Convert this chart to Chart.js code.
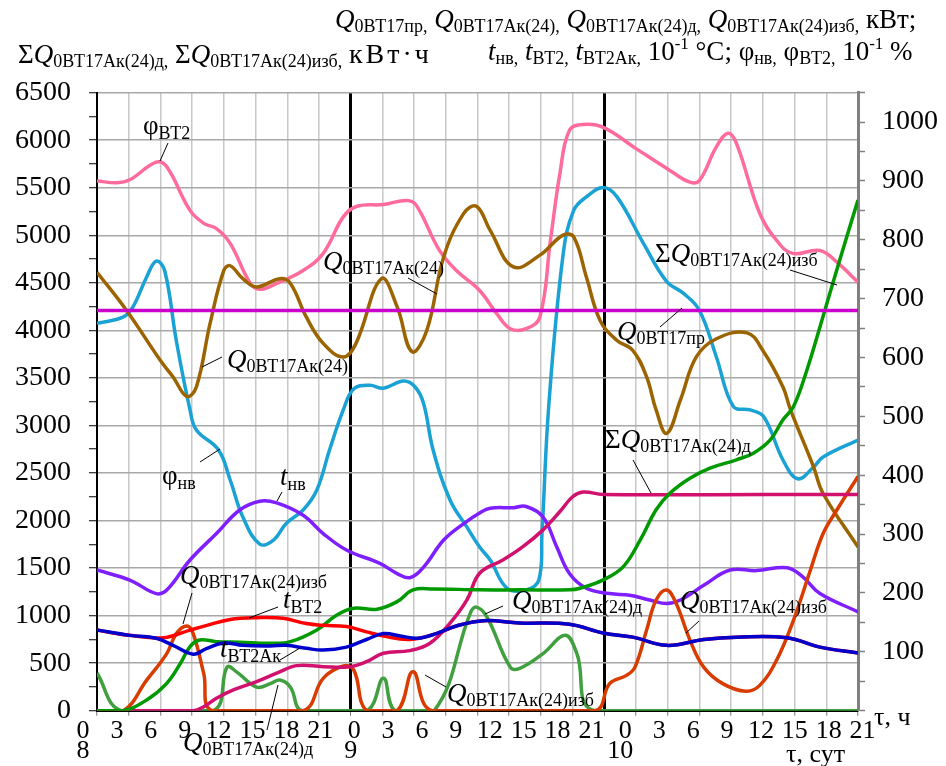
<!DOCTYPE html>
<html>
<head>
<meta charset="utf-8">
<script src="https://cdn.jsdelivr.net/npm/chart.js@4.4.0/dist/chart.umd.min.js"></script>
<style>
  body { margin: 0; background: #fff; }
  #wrap { width: 946px; height: 766px; }
</style>
</head>
<body>
<div id="wrap"><canvas id="chart" width="946" height="766"></canvas></div>
<script>
// time axis: hours counted from 0:00 of day 8 (0..72)
// right axis (kW, 10^-1 °C, 10^-1 %)
const phiVT2Hours = [0, 1.9, 3.1, 5.6, 6.6, 8.8, 10.1, 11.3, 12.6, 14.5, 15.4, 17, 19.5, 21.4, 23.3, 24.6, 27.1, 29.3, 30.2, 32.4, 34, 36.2, 37.8, 39.1, 40.6, 41.9, 42.9, 43.8, 44.7, 46, 47.9, 51, 54.2, 56.1, 57, 58.6, 59.7, 60.5, 62.7, 64.3, 65.8, 68.4, 70, 72];
const phiVT2 = [900, 897, 902, 932, 924, 850, 828, 819, 794, 726, 716, 726, 748, 777, 839, 857, 860, 867, 859, 782, 748, 714, 675, 649, 649, 669, 799, 913, 986, 996, 991, 955, 918, 898, 901, 958, 981, 964, 845, 799, 777, 782, 762, 728];

const phiNvHours = [0, 2.5, 3.4, 4.7, 5.6, 6.4, 7.5, 8.8, 9.4, 11.5, 12.6, 13.8, 15.4, 16.7, 17.9, 19.5, 20.8, 22, 23.3, 24.3, 25.8, 27.1, 29, 30.1, 30.9, 31.8, 33.4, 35, 36.2, 37.2, 38.8, 40.6, 41.8, 42.1, 42.75, 44.1, 45.1, 46.3, 47.9, 49.2, 51.7, 53.9, 55.5, 57, 58.6, 60.2, 61.8, 63.1, 64.9, 66.3, 67.8, 68.7, 72];
const phiNv = [658, 669, 686, 737, 764, 748, 629, 511, 477, 443, 392, 329, 283, 290, 318, 341, 375, 443, 511, 547, 553, 548, 560, 550, 522, 443, 358, 312, 278, 256, 208, 205, 222, 301, 520, 775, 850, 873, 889, 873, 794, 729, 709, 680, 601, 517, 511, 499, 426, 394, 414, 431, 460];

const q24Hours = [0, 2.8, 6, 7.2, 8.5, 9.4, 10.7, 12, 12.6, 13.8, 15.1, 17.3, 18.3, 19.8, 21.4, 23.3, 24.5, 26.9, 28.4, 29.8, 31.2, 32.8, 34.7, 35.9, 37.2, 39.4, 41.9, 44.1, 45.1, 46.3, 47.6, 49.2, 50.7, 52, 52.9, 53.9, 55.2, 56.7, 58.6, 61.5, 63, 64.9, 65.6, 67.8, 68.7, 72];
const q24 = [745, 680, 595, 567, 534, 550, 658, 748, 756, 734, 720, 734, 726, 669, 624, 601, 624, 734, 686, 610, 646, 771, 845, 857, 816, 754, 774, 808, 805, 737, 663, 629, 612, 567, 511, 471, 528, 601, 632, 642, 612, 550, 512, 414, 369, 278];

const qPrHours = [0, 72];
const qPr = [680, 680];

const tNvHours = [0, 3.1, 5.6, 6.6, 8.8, 11.3, 13.5, 15.4, 17, 19.5, 21.4, 23.6, 26.8, 28.4, 29.6, 30.9, 32.8, 34.7, 36.2, 37.2, 39.4, 40.6, 42.2, 43.5, 44.7, 46.3, 48.5, 50.4, 52.3, 53.9, 55.2, 57.4, 59.9, 62.4, 65.3, 66.8, 68.4, 72];
const tNv = [239, 222, 199, 205, 256, 301, 341, 356, 353, 332, 301, 273, 250, 233, 226, 244, 290, 318, 336, 344, 345, 347, 329, 278, 233, 208, 199, 196, 188, 182, 188, 213, 239, 238, 243, 227, 199, 168];

const tVT2Hours = [0, 3.1, 6.3, 8.8, 10.4, 12.6, 15.1, 17.6, 19.8, 21.4, 23.6, 25.5, 27.1, 29.6, 32.1, 34, 36.6, 40, 44.7, 47.9, 50.7, 53.9, 57.4, 60.5, 65.3, 68.4, 72];
const tVT2 = [137, 128, 124, 137, 145, 155, 158, 157, 148, 145, 143, 134, 127, 121, 131, 144, 153, 149, 147, 132, 125, 111, 121, 125, 124, 108, 98];

const tVT2AkHours = [0, 3.1, 5.6, 7.2, 9.1, 10.4, 12, 13.8, 16.4, 17.9, 19.8, 21.4, 23.6, 25.5, 27.1, 28.7, 30.3, 32.1, 34, 36.6, 40, 44.7, 47.9, 50.7, 53.9, 57.4, 60.5, 65.3, 68.4, 72];
const tVT2Ak = [137, 128, 123, 111, 96, 106, 115, 111, 110, 111, 106, 103, 108, 121, 131, 127, 123, 131, 144, 153, 149, 147, 132, 125, 111, 121, 125, 124, 108, 98];

const qIzbHours = [0, 2.5, 4.7, 6.6, 7.5, 8.5, 9.1, 10.1, 10.9, 19.5, 21.4, 23.3, 24.3, 25.5, 28.4, 29.9, 31.7, 47.1, 48.5, 50.1, 50.9, 52, 52.9, 53.9, 54.8, 56.1, 57.4, 59.2, 61.4, 62.7, 64.3, 65.9, 67.5, 68.7, 70, 72];
const qIzb = [0, 0, 52, 97, 131, 144, 131, 63, 0, 0, 55, 76, 69, 0, 0, 66, 0, 0, 46, 60, 74, 137, 188, 205, 182, 120, 74, 46, 33, 43, 86, 154, 239, 301, 341, 398];

const qDHours = [0, 2.3, 11, 12.3, 13.2, 15.1, 16.4, 17.3, 18.3, 19.4, 25.5, 27.1, 28.2, 31.9, 35.3, 35.9, 36.9, 39.1, 40, 42.2, 44.3, 45.4, 47.1, 72];
const qD = [64, 0, 0, 74, 66, 40, 46, 52, 40, 0, 0, 55, 0, 0, 165, 176, 159, 74, 72, 97, 128, 97, 0, 0];

// left axis (kWh)
const sumIzbHours = [0, 2.5, 4.7, 6.6, 7.9, 8.8, 9.7, 11.3, 13.5, 16.4, 18.3, 20.8, 22.7, 24.3, 26.5, 28.4, 29.9, 31.8, 36.2, 40, 44.7, 45.7, 47.9, 49.8, 51.4, 52.9, 54.2, 56.1, 58, 60.5, 62.1, 63.7, 64.9, 65.9, 67.1, 68.7, 70.3, 72];
const sumIzb = [0, 0, 113, 288, 499, 674, 744, 726, 720, 709, 726, 849, 1007, 1078, 1067, 1147, 1271, 1281, 1271, 1271, 1271, 1288, 1376, 1516, 1797, 2113, 2288, 2446, 2552, 2639, 2709, 2849, 3060, 3200, 3560, 4150, 4750, 5370];

const sumDHours = [0, 9.1, 10.1, 11.3, 12.9, 15.1, 17, 18.9, 21.4, 23.9, 25.5, 27.1, 29.6, 31.5, 33.4, 35, 36.2, 38.4, 40.3, 42.2, 43.8, 45, 46, 47.9, 72];
const sumD = [0, 0, 42, 130, 218, 305, 394, 474, 463, 463, 516, 604, 632, 709, 920, 1165, 1446, 1586, 1726, 1902, 2095, 2250, 2300, 2275, 2275];

const hourTicks = [0, 3, 6, 9, 12, 15, 18, 21, 24, 27, 30, 33, 36, 39, 42, 45, 48, 51, 54, 57, 60, 63, 66, 69];
const dayLabels = ['8', '9', '10'];

function pts(hs, vs) {
    return hs.map((h, i) => ({ x: h, y: vs[i] }));
}

function line(data, color, axis) {
    return { data: data, borderColor: color, yAxisID: axis, fill: false };
}

const SERIF = '"Liberation Serif", "DejaVu Serif", serif';
const M = sz => sz + 'px ' + SERIF;
const I = sz => 'italic ' + sz + 'px ' + SERIF;

// draws text runs one after another, [text, font, dy]
function rich(c, x, y, segs) {
    for (const s of segs) {
        c.font = s[1];
        c.fillText(s[0], x, y + (s[2] || 0));
        x += c.measureText(s[0]).width;
    }
    return x;
}

function Q(sub, big, small) {
    return [['Q', I(big)], [sub, M(small), 4]];
}

function lead(c, x1, y1, x2, y2) {
    c.beginPath();
    c.moveTo(x1, y1);
    c.lineTo(x2, y2);
    c.stroke();
}

const textPlugin = {
    id: 'texts',
    afterDraw(chart) {
        const c = chart.ctx;
        const area = chart.chartArea;
        c.save();
        c.fillStyle = '#000';
        c.strokeStyle = '#000';
        c.lineWidth = 1;
        c.textBaseline = 'alphabetic';
        c.textAlign = 'left';

        // axis titles
        const sp = [' ', M(27)];
        const endX = rich(c, 18, 63, [['Σ', M(27)]].concat(Q('0ВТ17Ак(24)д,', 27, 18), [sp, ['Σ', M(27)]],
            Q('0ВТ17Ак(24)изб,', 27, 18), [sp]));
        c.letterSpacing = '3px';
        rich(c, endX, 63, [['кВт·ч', M(28)]]);
        c.letterSpacing = '0px';

        rich(c, 335, 28, [].concat(Q('0ВТ17пр,', 27, 18), [sp], Q('0ВТ17Ак(24),', 27, 18), [sp],
            Q('0ВТ17Ак(24)д,', 27, 18), [sp], Q('0ВТ17Ак(24)изб,', 27, 18), [[' кВт;', M(27)]]));

        rich(c, 488, 60, [['t', I(27)], ['нв,', M(18), 4], sp, ['t', I(27)], ['ВТ2,', M(18), 4], sp,
            ['t', I(27)], ['ВТ2Ак,', M(18), 4], [' 10', M(27)], ['-1', M(17), -11], [' °C; φ', M(27)],
            ['нв,', M(18), 4], [' φ', M(27)], ['ВТ2,', M(18), 4], [' 10', M(27)], ['-1', M(17), -11], [' %', M(27)]]);

        // curve labels with leader lines
        rich(c, 143, 134, [['φ', M(27)], ['ВТ2', M(18), 5]]);
        lead(c, 168, 143, 160, 161);
        rich(c, 323, 270, Q('0ВТ17Ак(24)', 27, 18));
        lead(c, 408, 278, 437, 294);
        rich(c, 227, 368, Q('0ВТ17Ак(24)', 27, 18));
        lead(c, 222, 357, 202, 367);
        rich(c, 162, 484, [['φ', M(27)], ['нв', M(18), 5]]);
        lead(c, 200, 462, 220, 449);
        rich(c, 280, 485, [['t', I(27)], ['нв', M(18), 5]]);
        lead(c, 277, 501, 282, 492);
        rich(c, 180, 584, Q('0ВТ17Ак(24)изб', 27, 18));
        lead(c, 192, 593, 183, 624);
        rich(c, 283, 608, [['t', I(27)], ['ВТ2', M(18), 5]]);
        lead(c, 278, 607, 249, 618);
        rich(c, 220, 657, [['t', I(27)], ['ВТ2Ак', M(18), 5]]);
        lead(c, 280, 660, 300, 648);
        rich(c, 183, 751, Q('0ВТ17Ак(24)д', 27, 18));
        lead(c, 267, 730, 278, 685);
        rich(c, 447, 702, Q('0ВТ17Ак(24)изб', 27, 18));
        lead(c, 446, 687, 425, 675);
        rich(c, 655, 262, [['Σ', M(27)]].concat(Q('0ВТ17Ак(24)изб', 27, 18)));
        lead(c, 790, 270, 837, 285);
        rich(c, 617, 340, Q('0ВТ17пр', 27, 18));
        lead(c, 660, 327, 682, 308);
        rich(c, 512, 609, Q('0ВТ17Ак(24)д', 27, 18));
        lead(c, 503, 606, 485, 614);
        rich(c, 605, 448, [['Σ', M(27)]].concat(Q('0ВТ17Ак(24)д', 27, 18)));
        lead(c, 633, 460, 651, 493);
        rich(c, 680, 609, Q('0ВТ17Ак(24)изб', 27, 18));
        lead(c, 699, 621, 686, 633);

        // hour labels (spread a bit wider than the grid, as in the source)
        c.textAlign = 'center';
        c.font = M(26);
        const step = area.width * 1.069 / 72;
        hourTicks.forEach(h => {
            c.fillText(String(h % 24), area.left - 14 + h * step, 738);
        });
        c.fillText(dayLabels[0], area.left - 14, 758);
        c.fillText(dayLabels[1], chart.scales.x.getPixelForValue(24), 758);
        c.fillText(dayLabels[2], chart.scales.x.getPixelForValue(48) + 16, 758);
        c.textAlign = 'left';
        c.fillText('τ, ч', 874, 725);
        c.fillText('τ, сут', 786, 762);
        c.restore();
    }
};

function build() {
    const ctx = document.getElementById('chart').getContext('2d');
    new Chart(ctx, {
        type: 'line',
        data: {
            datasets: [
                line(pts(tVT2AkHours, tVT2Ak), '#0000CC', 'yR'),
                line(pts(tVT2Hours, tVT2), '#FF0000', 'yR'),
                line(pts(qPrHours, qPr), '#CC00CC', 'yR'),
                line(pts(sumIzbHours, sumIzb), '#009A00', 'yL'),
                line(pts(sumDHours, sumD), '#D2106E', 'yL'),
                line(pts(qIzbHours, qIzb), '#D83C00', 'yR'),
                line(pts(qDHours, qD), '#40A040', 'yR'),
                line(pts(tNvHours, tNv), '#7F1FFF', 'yR'),
                line(pts(q24Hours, q24), '#9C6400', 'yR'),
                line(pts(phiNvHours, phiNv), '#1AA2D4', 'yR'),
                line(pts(phiVT2Hours, phiVT2), '#FF6C9C', 'yR')
            ]
        },
        options: {
            responsive: false,
            animation: false,
            layout: { padding: { top: 92.7, left: 0, right: 0, bottom: 0 } },
            plugins: { legend: { display: false }, tooltip: { enabled: false } },
            elements: {
                point: { radius: 0 },
                line: { borderWidth: 3.5, tension: 0.4 }
            },
            scales: {
                x: {
                    type: 'linear', min: 0, max: 72,
                    ticks: { stepSize: 3, maxTicksLimit: 1000, autoSkip: false, display: false },
                    grid: {
                        color: c => (c.tick && (c.tick.value === 24 || c.tick.value === 48)) ? '#000' : '#C8C8C8',
                        lineWidth: c => (c.tick && (c.tick.value === 24 || c.tick.value === 48)) ? 3 : 1.5,
                        tickColor: '#777', tickLength: 5, tickWidth: 1
                    },
                    border: { color: '#000', width: 2 },
                    afterFit: s => { s.height = 55.3; }
                },
                yL: {
                    position: 'left', min: 0, max: 6500,
                    ticks: {
                        stepSize: 250, maxTicksLimit: 1000, autoSkip: false,
                        callback: v => v % 500 === 0 ? v : '',
                        font: { family: SERIF, size: 28 }, color: '#000', padding: 18
                    },
                    grid: {
                        color: c => (c.tick && c.tick.value % 500 === 0) ? '#A8A8A8' : 'rgba(0,0,0,0)',
                        lineWidth: 1.5, tickColor: '#000', tickLength: 8, tickWidth: 1
                    },
                    border: { color: '#000', width: 2 },
                    afterFit: s => { s.width = 97; }
                },
                yR: {
                    position: 'right', min: 0, max: 1050,
                    ticks: {
                        stepSize: 50, maxTicksLimit: 1000, autoSkip: false,
                        callback: v => (v % 100 === 0 && v > 0) ? v : '',
                        font: { family: SERIF, size: 28 }, color: '#000', padding: 17
                    },
                    grid: { drawOnChartArea: false, tickColor: '#808080', tickLength: 7, tickWidth: 1.5 },
                    border: { color: '#808080', width: 3 },
                    afterFit: s => { s.width = 88; }
                }
            }
        },
        plugins: [textPlugin]
    });
}

Promise.all([
    document.fonts.load('27px "Liberation Serif"'),
    document.fonts.load('italic 27px "Liberation Serif"')
]).catch(() => {}).then(build);
</script>
</body>
</html>
